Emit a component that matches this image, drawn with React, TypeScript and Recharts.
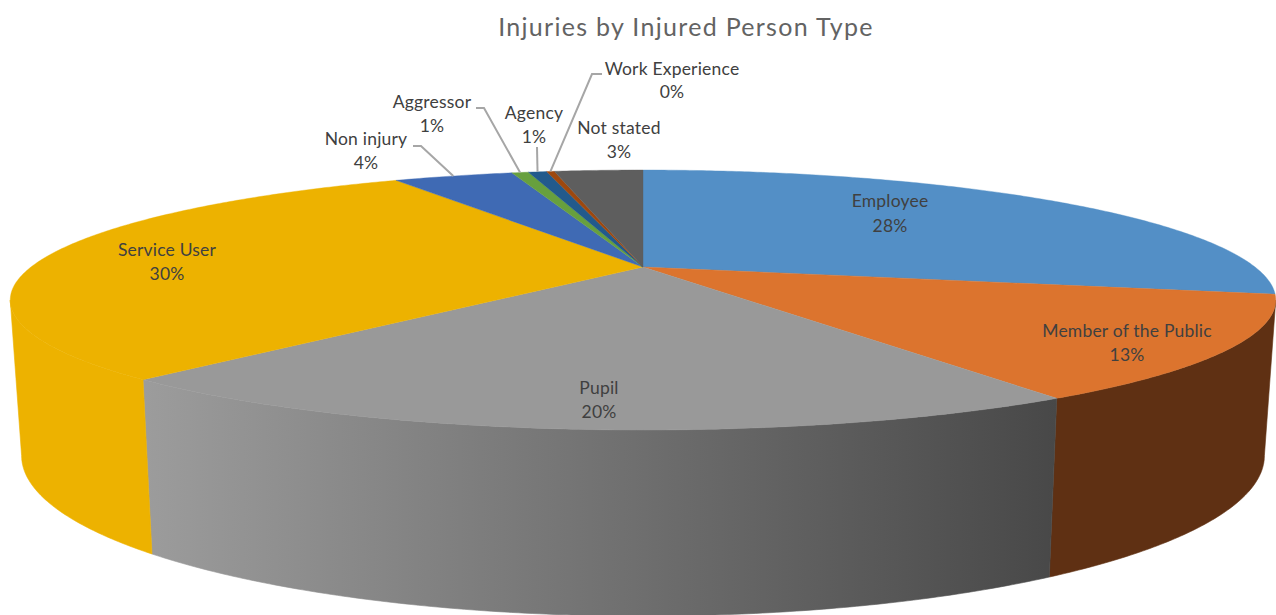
import React from "react";
import { PieChart, Pie } from "recharts";

const TITLE = "Injuries by Injured Person Type";
const NAMES = ["Employee", "Member of the Public", "Pupil", "Service User", "Non injury", "Aggressor", "Agency", "Work Experience", "Not stated"];
const VALUES = [28.4, 12.7, 20.4, 30.3, 3.9, 0.55, 0.6, 0.25, 2.9];
const COLORS = ["#538fc6", "#dc742e", "#999999", "#edb200", "#3f6ab4", "#67a03e", "#225a8c", "#9e480e", "#5e5e5e"];
const WALLS = ["#33587a", "#5f3013", "url(#pupilWall)", "#edb200", "#26406c", "#3e6025", "#143654", "#5f2b08", "#383838"];

// label anchors (centre x, first-line baseline, second-line baseline)
const LABEL_X = [890, 1127, 599, 167, 366, 432, 534, 672, 619];
const LABEL_Y1 = [207, 337, 394, 256, 145, 108, 119, 75, 134];
const LABEL_Y2 = [232, 361, 418, 280, 169, 132, 143, 98, 158];
// leader lines: elbow points, ends computed from the slice's mid angle
const LEADERS: Record<number, number[][]> = {
  4: [[413, 146], [421, 146]],
  5: [[476, 108], [484, 108]],
  6: [[537, 147]],
  7: [[602, 74], [592, 74]],
};

const W = 1276;
const H = 615;
const CX = 643;
const CY = 267;
const K = 0.254;
const FONT = "Lato, 'Open Sans', sans-serif";

const data = NAMES.map((name, i) => ({ name, value: VALUES[i], fill: COLORS[i], wall: WALLS[i] }));

const RAD = Math.PI / 180;
const top = (deg: number) => {
  const u = Math.cos(deg * RAD);
  const v = Math.sin(deg * RAD);
  const w = 1 + K * v;
  return [CX + (612 * u) / w, CY - (121.6 * v) / w];
};
const bottom = (deg: number) => {
  const u = Math.cos(deg * RAD);
  const v = Math.sin(deg * RAD);
  const w = 1 + K * v;
  return [CX + (601 * u) / w, 415 - (150 * v) / w];
};
const arc = (fn: (d: number) => number[], from: number, to: number) => {
  const n = Math.max(2, Math.ceil(Math.abs(from - to) * 2));
  const pts: number[][] = [];
  for (let i = 0; i <= n; i++) pts.push(fn(from + ((to - from) * i) / n));
  return pts;
};
const toPath = (pts: number[][]) => "M" + pts.map((p) => `${p[0].toFixed(2)},${p[1].toFixed(2)}`).join("L") + "Z";

const Slice3D = (props: any) => {
  const { startAngle, endAngle, fill, wall } = props;
  const from = Math.min(startAngle, -14.7);
  const to = Math.max(endAngle, -165.3);
  const face = [[CX, CY], ...arc(top, startAngle, endAngle)];
  return (
    <g>
      {from > to && (
        <path
          d={toPath([...arc(top, from, to), ...arc(bottom, to, from)])}
          fill={wall}
          stroke={wall}
          strokeWidth={0.6}
        />
      )}
      <path d={toPath(face)} fill={fill} stroke={fill} strokeWidth={0.4} />
    </g>
  );
};

const renderLabel = (props: any) => {
  const { index, percent, midAngle } = props;
  const leader = LEADERS[index];
  const end = top(midAngle);
  return (
    <g key={index}>
      {leader && (
        <polyline
          points={[...leader, end].map((p) => p.join(",")).join(" ")}
          fill="none"
          stroke="#a6a6a6"
          strokeWidth={2}
        />
      )}
      <text x={LABEL_X[index]} y={LABEL_Y1[index]} textAnchor="middle" fontFamily={FONT} fontSize={17.5} letterSpacing={0.2} fill="#404040">
        {NAMES[index]}
      </text>
      <text x={LABEL_X[index]} y={LABEL_Y2[index]} textAnchor="middle" fontFamily={FONT} fontSize={17.5} letterSpacing={0.2} fill="#404040">
        {`${Math.round(percent * 100)}%`}
      </text>
    </g>
  );
};

export default function App() {
  return (
    <div style={{ position: "absolute", left: 0, top: 0, width: W, height: H, overflow: "hidden", background: "#fff" }}>
      <PieChart width={W} height={H} margin={{ top: 0, right: 0, bottom: 0, left: 0 }}>
        <defs>
          <linearGradient id="pupilWall" gradientUnits="userSpaceOnUse" x1={145} y1={0} x2={1057} y2={0}>
            <stop offset="0" stopColor="#9c9c9c" />
            <stop offset="0.5" stopColor="#727272" />
            <stop offset="1" stopColor="#484848" />
          </linearGradient>
        </defs>
        <text x={686} y={36} textAnchor="middle" fontFamily={FONT} fontSize={25} letterSpacing={1.3} fill="#636363">
          {TITLE}
        </text>
        <Pie
          data={data}
          dataKey="value"
          nameKey="name"
          cx={CX}
          cy={CY}
          outerRadius={120}
          startAngle={90}
          endAngle={-270}
          stroke="none"
          shape={Slice3D}
          label={renderLabel}
          labelLine={false}
          isAnimationActive={false}
        />
      </PieChart>
    </div>
  );
}
